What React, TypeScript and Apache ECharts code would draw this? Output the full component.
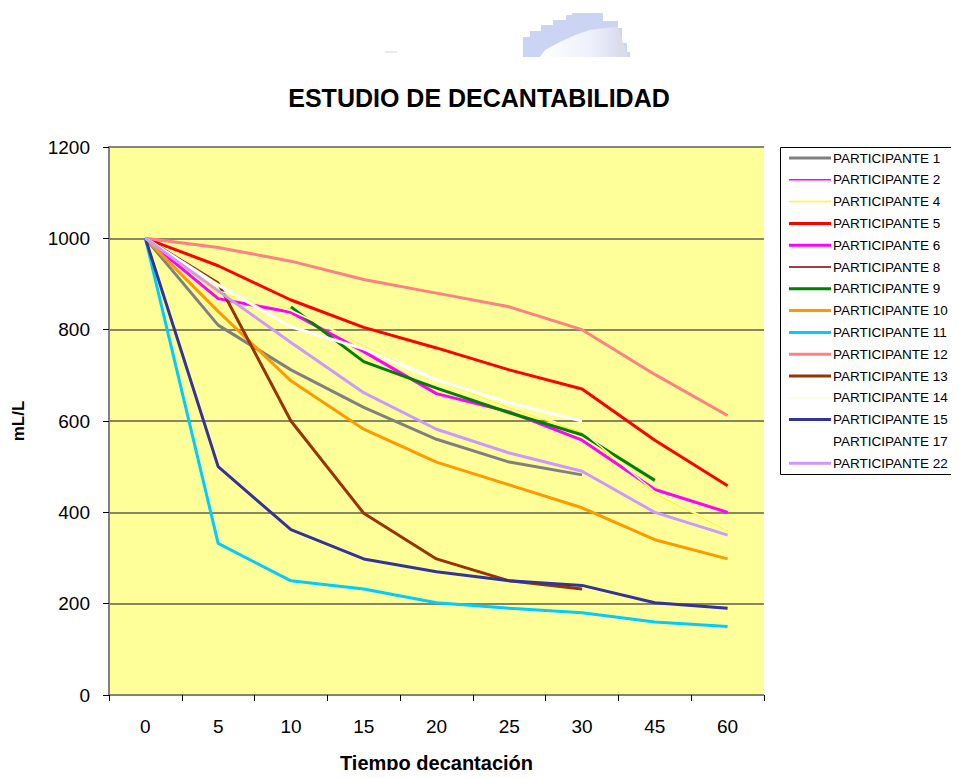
import React, { useEffect, useRef } from "react";
import * as echarts from "echarts";

const categories = ["0", "5", "10", "15", "20", "25", "30", "45", "60"];

const seriesNames = [
  "PARTICIPANTE 1",
  "PARTICIPANTE 2",
  "PARTICIPANTE 4",
  "PARTICIPANTE 5",
  "PARTICIPANTE 6",
  "PARTICIPANTE 8",
  "PARTICIPANTE 9",
  "PARTICIPANTE 10",
  "PARTICIPANTE 11",
  "PARTICIPANTE 12",
  "PARTICIPANTE 13",
  "PARTICIPANTE 14",
  "PARTICIPANTE 15",
  "PARTICIPANTE 17",
  "PARTICIPANTE 22",
];

const p1 = [1000, 810, 712, 630, 560, 510, 482, null, null];
const p2 = [1000, 868, 838, 752, 660, 620, 558, 450, 400];
const p4 = [1000, 880, 845, 765, 690, 630, 575, 442, 360];
const p5 = [1000, 940, 865, 805, 760, 712, 670, 558, 458];
const p6 = [1000, 868, 838, 752, 660, 620, 558, 450, 400];
const p8 = [1000, 902, 600, 398, 298, 250, 232, null, null];
const p9 = [null, null, 850, 730, 672, 618, 570, 470, null];
const p10 = [1000, 840, 688, 582, 510, 460, 410, 340, 298];
const p11 = [1000, 332, 250, 232, 202, 190, 180, 160, 150];
const p12 = [1000, 980, 950, 910, 880, 850, 800, 702, 612];
const p13 = [1000, 902, 600, 398, 298, 250, 232, null, null];
const p14 = [1000, 885, 842, 768, 692, 632, 578, 445, 362];
const p15 = [1000, 500, 362, 298, 270, 250, 240, 202, 190];
const p17 = [1000, 898, 806, 758, 690, 640, 600, null, null];
const p22 = [1000, 885, 772, 662, 582, 530, 490, 400, 350];

const seriesData = [p1, p2, p4, p5, p6, p8, p9, p10, p11, p12, p13, p14, p15, p17, p22];

const seriesColors = [
  "#808080",
  "#FF00FF",
  "#FFFF00",
  "#FF0000",
  "#FF00FF",
  "#800000",
  "#008000",
  "#FF9900",
  "#00CCFF",
  "#FF8080",
  "#993300",
  "#FFFFCC",
  "#333399",
  "#FFFFFF",
  "#CC99FF",
];

const seriesWidths = [3, 1.5, 1.5, 3, 3, 1.5, 3, 3, 3, 3, 3, 1.5, 3, 3, 3];

const yTicks = { min: 0, max: 1200, interval: 200 };

const FONT = "'Liberation Sans', Arial, sans-serif";

// legend icon: 42x12 box with a centred bar of the given thickness
const legendIcon = (w: number) => {
  const top = 6 - w / 2;
  const bot = 6 + w / 2;
  return (
    "path://M0,0L0.01,0L0.01,0.01Z" +
    `M0,${top}L42,${top}L42,${bot}L0,${bot}Z` +
    "M41.99,11.99L42,11.99L42,12Z"
  );
};

export default function App() {
  const ref = useRef<HTMLDivElement>(null);

  useEffect(() => {
    if (!ref.current) return;
    const chart = echarts.init(ref.current, null, { renderer: "svg" });

    const series = seriesNames.map((name, i) => ({
      name,
      type: "line",
      data: seriesData[i],
      symbol: "none",
      showSymbol: false,
      connectNulls: false,
      lineStyle: { color: seriesColors[i], width: seriesWidths[i] },
      itemStyle: { color: seriesColors[i] },
      z: 3,
    }));

    const option: any = {
      animation: false,
      backgroundColor: "#FFFFFF",
      textStyle: { fontFamily: FONT },
      title: {
        text: "ESTUDIO DE DECANTABILIDAD",
        left: 474,
        textAlign: "center",
        top: 80,
        textStyle: { fontFamily: FONT, fontSize: 25, fontWeight: "bold", color: "#000" },
      },
      grid: {
        left: 109,
        top: 147,
        width: 655,
        height: 548,
        show: true,
        backgroundColor: "#FFFF99",
        borderWidth: 0,
        outerBoundsMode: "none",
        containLabel: false,
      },
      legend: {
        orient: "vertical",
        left: 789,
        top: 151,
        itemWidth: 42,
        itemHeight: 12,
        itemGap: 7.8,
        padding: 0,
        selectedMode: false,
        data: seriesNames.map((n, i) => ({
          name: n,
          icon: legendIcon(seriesWidths[i]),
          itemStyle: { color: seriesColors[i], borderWidth: 0 },
        })),
        textStyle: { fontFamily: FONT, fontSize: 13.5, color: "#000", padding: [0, 0, 0, -3] },
      },
      xAxis: {
        type: "category",
        data: categories,
        boundaryGap: true,
        name: "Tiempo decantación",
        nameLocation: "middle",
        nameGap: 58,
        nameTextStyle: { fontFamily: FONT, fontSize: 20, fontWeight: "bold", color: "#000" },
        axisLine: { show: true, lineStyle: { color: "#808080", width: 1 } },
        axisTick: { show: true, alignWithLabel: false, length: 6, lineStyle: { color: "#000" } },
        axisLabel: { fontFamily: FONT, fontSize: 19, color: "#000", margin: 22 },
        splitLine: { show: false },
      },
      yAxis: {
        type: "value",
        min: yTicks.min,
        max: yTicks.max,
        interval: yTicks.interval,
        name: "mL/L",
        nameLocation: "middle",
        nameGap: 82,
        nameRotate: 90,
        nameTextStyle: { fontFamily: FONT, fontSize: 17, fontWeight: "bold", color: "#000" },
        axisLine: { show: true, lineStyle: { color: "#808080", width: 2 } },
        axisTick: { show: true, inside: false, length: 6, lineStyle: { color: "#000" } },
        axisLabel: {
          fontFamily: FONT,
          fontSize: 19,
          color: "#000",
          margin: 19,
          formatter: (v: number) => String(v),
        },
        splitLine: { show: true, lineStyle: { color: "#5E5E50", width: 1.5 } },
      },
      graphic: [
        {
          type: "rect",
          shape: { x: 780.5, y: 147.5, width: 200, height: 327 },
          style: { fill: "#FFFFFF", stroke: "#000", lineWidth: 1 },
          z: -1,
          silent: true,
        },
        {
          type: "group",
          silent: true,
          children: [
            {
              type: "polygon",
              shape: {
                points: [
                  [523, 57], [523, 37], [530, 37], [530, 31], [541, 31], [541, 25],
                  [553, 25], [553, 20], [566, 20], [566, 15], [572, 15], [572, 13],
                  [603, 13], [603, 21], [618, 21], [618, 28], [622, 28], [622, 43],
                  [627, 43], [627, 52], [630, 52], [630, 57],
                ],
              },
              style: { fill: "#CBD4F2" },
            },
            {
              type: "polygon",
              shape: {
                points: [
                  [540, 57], [545, 50], [560, 42], [575, 35], [590, 30], [605, 28],
                  [617, 27], [622, 40], [625, 57],
                ],
              },
              style: {
                fill: new echarts.graphic.LinearGradient(0, 0, 1, 0, [
                  { offset: 0, color: "#FFFFFF" },
                  { offset: 0.6, color: "#EEF0FB" },
                  { offset: 1, color: "#D5D8EC" },
                ]),
              },
            },
            {
              type: "polygon",
              shape: { points: [[615, 27], [618, 27], [624, 45], [628, 57], [620, 57]] },
              style: { fill: "#DCDCE8" },
            },
            {
              type: "rect",
              shape: { x: 385, y: 51, width: 12, height: 2 },
              style: { fill: "#E6E9F8" },
            },
          ],
        },
      ],
      series,
    };

    chart.setOption(option);
    return () => chart.dispose();
  }, []);

  return <div ref={ref} style={{ width: 959, height: 778, margin: -8 }} />;
}
